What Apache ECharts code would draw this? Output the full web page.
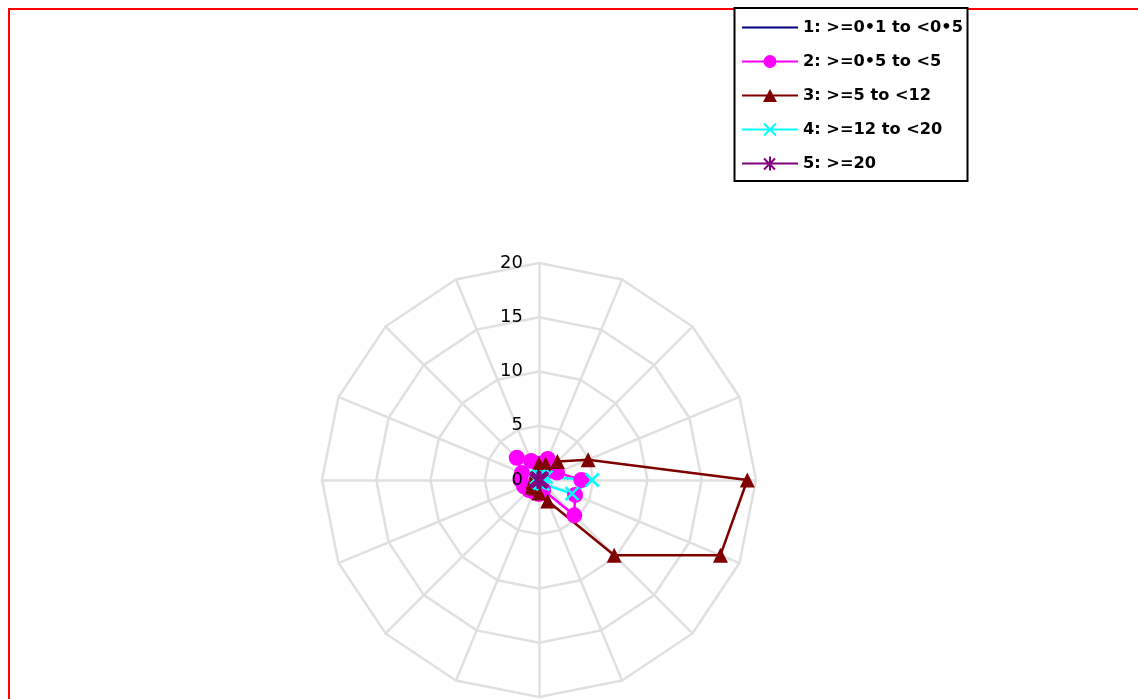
<!DOCTYPE html>
<html>
<head>
<meta charset="utf-8">
<script src="https://cdn.jsdelivr.net/npm/echarts@6/dist/echarts.min.js"></script>
<style>
html,body{margin:0;padding:0;background:#ffffff;}
#chart{width:1138px;height:699px;}
</style>
</head>
<body>
<div id="chart"></div>
<script>
// Compass directions (clockwise from North)
const directions = ['N','NNE','NE','ENE','E','ESE','SE','SSE','S','SSW','SW','WSW','W','WNW','NW','NNW'];
// Radial scale
const radialMax = 20;
const radialSplits = 4; // ticks 0,5,10,15,20

const seriesNames = ['1: >=0\u20221 to <0\u20225', '2: >=0\u20225 to <5', '3: >=5 to <12', '4: >=12 to <20', '5: >=20'];
const seriesColors = ['#000080', '#ff00ff', '#800000', '#00ffff', '#800080'];

// values per direction, in compass order
const band1 = [0.1,0.1,0.1,0.1,0.2,0.1,0.1,0.1,0.1,0.1,0.1,0.1,0.1,0.1,0.1,0.1];
const band2 = [1.5,2.1,1.2,1.8,3.9,3.6,4.6,1.0,1.3,1.2,1.3,1.5,1.7,1.7,2.9,1.9];
const band3 = [1.5,1.6,2.4,4.9,19.2,18.1,9.8,2.1,1.2,0.8,0.9,0.6,0.5,0.4,0.5,0.8];
const band4 = [0.3,0.3,0.4,0.7,4.9,3.3,0.5,0.3,0.2,0.2,0.2,0.2,0.2,0.2,0.3,0.3];
const band5 = [0.1,0.1,0.1,0.1,0.1,0.1,0.1,0.1,0.1,0.1,0.1,0.1,0.1,0.1,0.1,0.1];

// ECharts radar places indicators counter-clockwise; reorder so compass runs clockwise
const order = [0].concat(directions.map((d, i) => i).slice(1).reverse());
const reorder = arr => order.map(i => arr[i]);

const makeIndicators = withLabel => {
  const ind = order.map(i => ({ name: directions[i], min: 0, max: radialMax }));
  if (withLabel) ind[0].axisLabel = { show: true };
  return ind;
};

const LINE = 'M0,0M56,14M0,6L56,6L56,8L0,8Z';
const legendIcons = [
  'path://' + LINE,
  'path://' + LINE + 'M21.5,7A6.5,6.5,0,1,1,34.5,7A6.5,6.5,0,1,1,21.5,7Z',
  'path://' + LINE + 'M28,0.5L35,13.5L21,13.5Z',
  'path://' + LINE + 'M22.7,0.3L34.7,12.3L33.3,13.7L21.3,1.7ZM34.7,1.7L22.7,13.7L21.3,12.3L33.3,0.3Z',
  'path://' + LINE + 'M22.7,1.3L33.7,12.3L32.3,13.7L21.3,2.7ZM33.7,2.7L22.7,13.7L21.3,12.3L32.3,1.3ZM27,0L29,0L29,14L27,14Z'
];

const markerSymbols = ['none', 'circle', 'triangle', 'path://M0,0L10,10M10,0L0,10', 'path://M0,1L10,11M10,1L0,11M5,0L5,12'];
const markerSizes = [0, 16, 15, 13, 16];
const markerBorders = [0, 0, 0, 2.5, 2.5];
const lineWidths = [2, 2.5, 2.5, 2.5, 2];
const bands = [band1, band2, band3, band4, band5];

const chart = echarts.init(document.getElementById('chart'), null, { renderer: 'canvas' });

const radarBase = {
  center: [539, 480],
  radius: 217,
  startAngle: 90,
  splitNumber: radialSplits,
  shape: 'polygon',
  axisName: { show: false },
  splitArea: { show: false },
  axisTick: { show: false }
};

const option = {
  animation: false,
  backgroundColor: '#ffffff',
  graphic: [
    { type: 'rect', z: 0, shape: { x: 9, y: 9, width: 1300, height: 900 }, style: { fill: 'none', stroke: '#ff0000', lineWidth: 2 } },
    { type: 'rect', z: 1, shape: { x: 734.5, y: 8, width: 233, height: 173 }, style: { fill: '#ffffff', stroke: '#000000', lineWidth: 2 } }
  ],
  legend: {
    orient: 'vertical',
    left: 742,
    top: 19,
    padding: 0,
    itemWidth: 56,
    itemHeight: 14,
    itemGap: 17,
    selectedMode: false,
    itemStyle: { borderWidth: 0 },
    textStyle: { fontFamily: 'DejaVu Sans, sans-serif', fontWeight: 'bold', fontSize: 16.2, color: '#000000', lineHeight: 17, padding: [0,0,0,0] },
    data: seriesNames.map((n, i) => ({ name: n, icon: legendIcons[i], itemStyle: { color: seriesColors[i] } }))
  },
  radar: [
    Object.assign({}, radarBase, {
      z: 1,
      indicator: makeIndicators(false),
      axisLine: { show: true, lineStyle: { color: '#e0e0e0', width: 2.5 } },
      splitLine: { show: true, lineStyle: { color: '#e0e0e0', width: 2.5 } },
      axisLabel: { show: false }
    }),
    Object.assign({}, radarBase, {
      z: 10,
      silent: true,
      indicator: makeIndicators(true),
      axisLine: { show: false },
      splitLine: { show: false },
      axisLabel: { show: false, color: '#000000', fontSize: 18, fontFamily: 'DejaVu Sans, sans-serif', margin: 16 }
    })
  ],
  series: [{
    type: 'radar',
    radarIndex: 0,
    silent: true,
    data: bands.map((b, i) => ({
      name: seriesNames[i],
      value: reorder(b),
      symbol: markerSymbols[i],
      symbolSize: markerSizes[i],
      lineStyle: { color: seriesColors[i], width: lineWidths[i] },
      itemStyle: { color: seriesColors[i], borderColor: seriesColors[i], borderWidth: markerBorders[i] }
    }))
  }]
};
chart.setOption(option);
</script>
</body>
</html>
